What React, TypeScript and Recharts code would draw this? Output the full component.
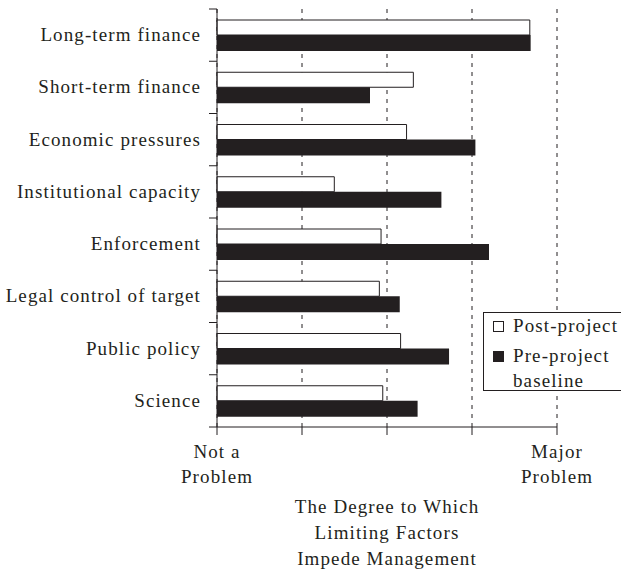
import React from 'react';
import { BarChart, Bar, XAxis, YAxis, CartesianGrid, Legend } from 'recharts';

const categories = [
  'Long-term finance',
  'Short-term finance',
  'Economic pressures',
  'Institutional capacity',
  'Enforcement',
  'Legal control of target',
  'Public policy',
  'Science',
];
const postProject = [3.68, 2.31, 2.23, 1.38, 1.93, 1.91, 2.16, 1.95];
const preProject = [3.69, 1.8, 3.04, 2.64, 3.2, 2.15, 2.73, 2.36];
const xTicks = [0, 1, 2, 3, 4];
const xTickLabels: Record<number, string[]> = {
  0: ['Not a', 'Problem'],
  4: ['Major', 'Problem'],
};
const axisTitle = ['The Degree to Which', 'Limiting Factors', 'Impede Management'];

const INK = '#231f20';
const FONT = '"Liberation Serif", serif';
const FONT_SIZE = 19;
const LETTER_SPACING = 1.1;

const W = 621;
const H = 571;
const MARGIN = { top: 9, right: 64, left: 0, bottom: 0 };
const X_AXIS_H = 144;
const PLOT_H = H - MARGIN.top - MARGIN.bottom - X_AXIS_H;
const STEP = PLOT_H / categories.length;

const data = categories.map((name, i) => ({
  name,
  post: postProject[i],
  pre: preProject[i],
}));

const YTick = (props: any) => {
  const { x, y, payload, index } = props;
  const axisX = x + 16;
  const isLast = index === categories.length - 1;
  return (
    <g>
      <line x1={axisX - 8} x2={axisX} y1={y - STEP / 2} y2={y - STEP / 2} stroke={INK} />
      {isLast && (
        <line x1={axisX - 8} x2={axisX} y1={y + STEP / 2} y2={y + STEP / 2} stroke={INK} />
      )}
      <text
        x={x}
        y={y}
        dy={6}
        textAnchor="end"
        fill={INK}
        fontFamily={FONT}
        fontSize={FONT_SIZE}
        letterSpacing={LETTER_SPACING}
      >
        {payload.value}
      </text>
    </g>
  );
};

const XTick = (props: any) => {
  const { x, y, payload } = props;
  const lines = xTickLabels[payload.value];
  if (!lines) return null;
  return (
    <text
      x={x}
      y={y}
      textAnchor="middle"
      fill={INK}
      fontFamily={FONT}
      fontSize={FONT_SIZE}
      letterSpacing={LETTER_SPACING}
    >
      {lines.map((l, i) => (
        <tspan key={i} x={x} dy={i === 0 ? 21 : 25}>
          {l}
        </tspan>
      ))}
    </text>
  );
};

const AxisTitle = (props: any) => {
  const { x, y, width } = props.viewBox;
  const cx = x + width / 2;
  return (
    <text
      x={cx}
      y={y}
      textAnchor="middle"
      fill={INK}
      fontFamily={FONT}
      fontSize={FONT_SIZE}
      letterSpacing={LETTER_SPACING}
    >
      {axisTitle.map((l, i) => (
        <tspan key={i} x={cx} dy={i === 0 ? 86 : 26}>
          {l}
        </tspan>
      ))}
    </text>
  );
};

const LegendBox = ({ payload }: any) => (
  <div
    style={{
      border: `1px solid ${INK}`,
      background: '#fff',
      fontFamily: FONT,
      fontSize: FONT_SIZE,
      letterSpacing: LETTER_SPACING,
      color: INK,
      lineHeight: '25px',
      padding: '0 0 2px 9px',
      height: 79,
      boxSizing: 'border-box',
    }}
  >
    {(payload || []).map((entry: any, i: number) => (
      <div key={i} style={{ display: 'flex', alignItems: 'flex-start', marginBottom: i === 0 ? 5 : 0 }}>
        <span
          style={{
            display: 'inline-block',
            width: 9,
            height: 9,
            marginTop: 8,
            marginRight: 9,
            border: `1px solid ${INK}`,
            background: entry.dataKey === 'pre' ? INK : '#fff',
            flexShrink: 0,
          }}
        />
        <span style={{ width: 112 }}>{entry.value}</span>
      </div>
    ))}
  </div>
);

export default function App() {
  return (
    <div style={{ position: 'absolute', left: 0, top: 0, width: W, height: H, overflow: 'hidden', background: '#fff' }}>
      <BarChart
        width={W}
        height={H}
        data={data}
        layout="vertical"
        margin={MARGIN}
        barCategoryGap="20%"
        barGap={0}
      >
        <CartesianGrid horizontal={false} stroke={INK} strokeDasharray="4 5" />
        <XAxis
          type="number"
          domain={[0, 4]}
          ticks={xTicks}
          height={X_AXIS_H}
          tickSize={8}
          tickMargin={2}
          stroke={INK}
          tickLine={{ stroke: INK }}
          tick={<XTick />}
          interval={0}
          label={<AxisTitle />}
        />
        <YAxis
          type="category"
          dataKey="name"
          width={217}
          tickSize={8}
          tickMargin={8}
          tickLine={false}
          stroke={INK}
          tick={<YTick />}
          interval={0}
        />
        <Legend
          content={<LegendBox />}
          layout="horizontal"
          verticalAlign="middle"
          align="center"
          wrapperStyle={{ position: 'absolute', left: 483, top: 312, width: 145, height: 79 }}
        />
        <Bar
          dataKey="post"
          name="Post-project"
          fill="#fff"
          stroke={INK}
          strokeWidth={1}
          barSize={15}
          isAnimationActive={false}
        />
        <Bar
          dataKey="pre"
          name="Pre-project baseline"
          fill={INK}
          barSize={16}
          isAnimationActive={false}
        />
      </BarChart>
    </div>
  );
}
